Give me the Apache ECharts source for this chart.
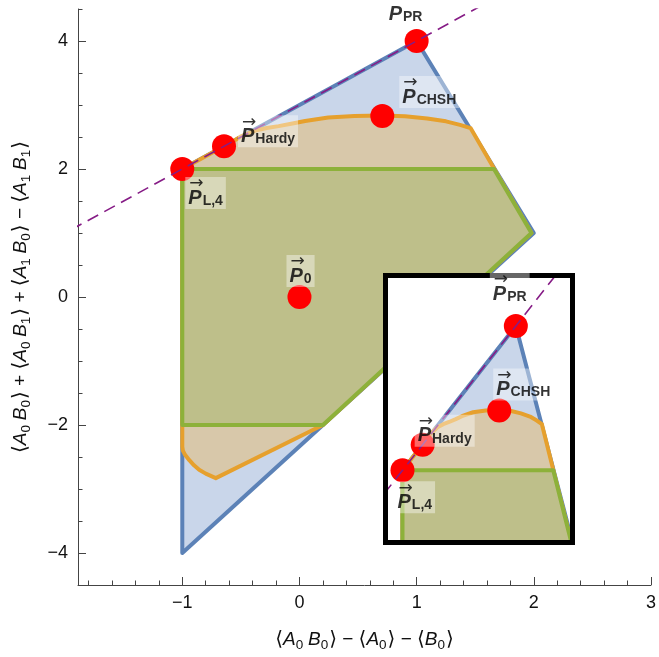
<!DOCTYPE html>
<html><head><meta charset="utf-8">
<script src="https://cdn.jsdelivr.net/npm/echarts@6/dist/echarts.min.js"></script>
<style>html,body{margin:0;padding:0;background:#fff}#c{width:659px;height:657px}</style>
</head><body><div id="c"></div>
<script>
// ---------- data ----------
const xMajorTicks = [-1, 0, 1, 2, 3];
const xMinorTicks = [-1.8,-1.6,-1.4,-1.2,-0.8,-0.6,-0.4,-0.2,0.2,0.4,0.6,0.8,1.2,1.4,1.6,1.8,2.2,2.4,2.6,2.8];
const yMajorTicks = [-4, -2, 0, 2, 4];
const yMinorTicks = [-4.5,-3.5,-3,-2.5,-1.5,-1,-0.5,0.5,1,1.5,2.5,3,3.5,4.5];

// no-signalling polytope (blue)
const nsX = [-1, 2, 1, -1];
const nsY = [-4, 1, 4, 2];
// quantum set (orange)
const qX = [-1, -0.82, -0.644, -0.57, -0.503, -0.44, -0.376, -0.28, -0.178, -0.06, 0.048, 0.246, 0.47, 0.707, 0.9, 1.09, 1.25, 1.37, 1.46, 1.98, 0.2, -0.714, -0.80, -0.856, -0.90, -0.94, -0.975, -0.995, -1];
const qY = [2, 2.18, 2.356, 2.43, 2.505, 2.555, 2.60, 2.64, 2.67, 2.71, 2.75, 2.805, 2.83, 2.835, 2.825, 2.79, 2.745, 2.69, 2.64, 1.0, -2, -2.83, -2.76, -2.70, -2.63, -2.55, -2.47, -2.40, -2.34];
// local polytope (green)
const lX = [-1, 0.2, 1.98, 1.66, -1];
const lY = [-2, -2, 1.0, 2, 2];
// dashed line
const dashX = [-1.95, 1.75];
const dashY = [1.05, 4.75];
// special points
const ptNames = ['PR', 'CHSH', 'Hardy', 'L4', '0'];
const ptX = [1, 0.707, -0.644, -1, 0];
const ptY = [4, 2.828, 2.356, 2, 0];
const ptSub = {PR: 'PR', CHSH: 'CHSH', Hardy: 'Hardy', L4: 'L,4', '0': '0'};

// ---------- layout ----------
const FONT = '"Liberation Sans", Arial, Helvetica, sans-serif';
const mainGrid = {left: 78, top: 9, width: 577, height: 576};
const insetGrid = {left: 385.5, top: 275.5, width: 187, height: 267};
const insetRange = {xmin: -1.3, xmax: 2.0, ymin: 1.0, ymax: 4.7};
const mainOffsets = {PR: [-31, -40], CHSH: [17, -40], Hardy: [14, -31], L4: [3, 8], '0': [-13, -42]};
const insetOffsets = {PR: [-26, -53], CHSH: [-6, -42], Hardy: [-8, -30], L4: [-8, 11]};
const mainArrow = {PR: false, CHSH: true, Hardy: true, L4: true, '0': true};

const C = {
  nsFill: '#c9d6ea', nsStroke: '#5c82b7',
  qFill: '#d8c8aa', qStroke: '#e6a02d',
  lFill: '#bebf8a', lStroke: '#8db13a',
  dash: '#861c86', red: '#ff0000'
};

function poly(xs, ys, fill, stroke, xi, z) {
  return {
    type: 'custom', xAxisIndex: xi, yAxisIndex: xi, z: z, silent: true, clip: true,
    data: xs.map((x, i) => [x, ys[i]]),
    renderItem: function (params, api) {
      if (params.dataIndex !== 0) return null;
      const pts = xs.map((x, i) => api.coord([x, ys[i]]));
      const cs = params.coordSys;
      return {
        type: 'group',
        clipPath: {type: 'rect', shape: {x: cs.x, y: cs.y, width: cs.width, height: cs.height}},
        children: [{type: 'polygon', shape: {points: pts},
          style: {fill: fill, stroke: stroke, lineWidth: 4, lineJoin: 'round'}}]
      };
    }
  };
}

const richLabel = {
  a: {fontSize: 17, lineHeight: 8, fontFamily: '"DejaVu Sans", sans-serif', color: '#000', padding: [0, 0, 0, 1]},
  p: {fontSize: 20, fontWeight: 'bold', fontStyle: 'italic', fontFamily: FONT, color: '#000', lineHeight: 20, verticalAlign: 'middle'},
  s: {fontSize: 14, fontWeight: 'bold', fontFamily: FONT, color: '#000', lineHeight: 20, verticalAlign: 'bottom', padding: [0, 0, 0, 1]}
};

function labelSeries(xi, names, offsets, arrows, z) {
  const data = [];
  names.forEach(n => {
    const i = ptNames.indexOf(n);
    data.push({
      value: [ptX[i], ptY[i]],
      label: {
        show: true, position: 'inside', align: 'left', verticalAlign: 'top',
        offset: offsets[n],
        formatter: (arrows[n] ? '{a|→}\n' : '') + '{p|P}{s|' + ptSub[n] + '}',
        rich: richLabel,
        backgroundColor: arrows[n] ? 'rgba(255,255,255,0.5)' : 'transparent',
        padding: [3, 3, 1, 3]
      }
    });
  });
  return {type: 'scatter', xAxisIndex: xi, yAxisIndex: xi, z: z, symbolSize: 1, silent: true,
    itemStyle: {color: 'transparent'}, clip: false, data: data};
}

function markerSeries(xi, names, z) {
  return {type: 'scatter', xAxisIndex: xi, yAxisIndex: xi, z: z, symbolSize: 24, silent: true,
    itemStyle: {color: C.red, opacity: 1},
    data: names.map(n => { const i = ptNames.indexOf(n); return [ptX[i], ptY[i]]; })};
}

function dashSeries(xi, z) {
  return {type: 'line', xAxisIndex: xi, yAxisIndex: xi, z: z, symbol: 'none', silent: true, clip: true,
    lineStyle: {color: C.dash, width: 1.6, type: [12, 7]},
    data: dashX.map((x, i) => [x, dashY[i]])};
}

const fmt = v => (v < 0 ? '\u2212' + Math.abs(v) : String(v));

const NF = 19;
const nameRich = {
  t: {fontSize: NF, fontFamily: FONT, color: '#111', lineHeight: 24, verticalAlign: 'middle'},
  b: {fontSize: NF + 1, fontFamily: '"DejaVu Sans", sans-serif', color: '#111', lineHeight: 24, verticalAlign: 'middle'},
  i: {fontSize: NF, fontFamily: FONT, fontStyle: 'italic', color: '#111', lineHeight: 24, verticalAlign: 'middle'},
  s: {fontSize: 13.5, fontFamily: FONT, color: '#111', lineHeight: 24, verticalAlign: 'bottom', padding: [0, 1, 0, 0]}
};
function ab(a, b) { return '{b|\u27e8}{i|A}{s|' + a + '}{i|\u2009B}{s|' + b + '}{b|\u27e9}'; }
function single(l, a) { return '{b|\u27e8}{i|' + l + '}{s|' + a + '}{b|\u27e9}'; }
const xName = ab(0, 0) + '{t| \u2212 }' + single('A', 0) + '{t| \u2212 }' + single('B', 0);
const yName = ab(0, 0) + '{t| + }' + ab(0, 1) + '{t| + }' + ab(1, 0) + '{t| \u2212 }' + ab(1, 1);

const axisCol = '#444';
const labelStyle = {fontSize: 18, fontFamily: FONT, color: '#111'};

const chart = echarts.init(document.getElementById('c'), null, {renderer: 'canvas'});
chart.setOption({
  animation: false,
  backgroundColor: '#fff',
  grid: [
    Object.assign({}, mainGrid, {containLabel: false}),
    Object.assign({}, insetGrid, {containLabel: false, show: false})
  ],
  xAxis: [
    {type: 'value', gridIndex: 0, min: -1.89, max: 3, position: 'bottom',
      axisLine: {show: true, onZero: false, lineStyle: {color: axisCol, width: 1}},
      axisTick: {show: true, inside: true, length: 8, customValues: xMajorTicks, lineStyle: {color: axisCol}},
      axisLabel: {show: true, customValues: xMajorTicks, formatter: fmt, margin: 9, ...labelStyle},
      splitLine: {show: false},
      name: xName, nameLocation: 'middle', nameGap: 43, nameTextStyle: {rich: nameRich}},
    {type: 'value', gridIndex: 0, min: -1.89, max: 3, position: 'bottom',
      axisLine: {show: false, onZero: false},
      axisTick: {show: true, inside: true, length: 4.5, customValues: xMinorTicks, lineStyle: {color: axisCol}},
      axisLabel: {show: false}, splitLine: {show: false}},
    {type: 'value', gridIndex: 1, min: insetRange.xmin, max: insetRange.xmax, show: false,
      axisLine: {onZero: false}, splitLine: {show: false}}
  ],
  yAxis: [
    {type: 'value', gridIndex: 0, min: -4.5, max: 4.5, position: 'left',
      axisLine: {show: true, onZero: false, lineStyle: {color: axisCol, width: 1}},
      axisTick: {show: true, inside: true, length: 8, customValues: yMajorTicks, lineStyle: {color: axisCol}},
      axisLabel: {show: true, customValues: yMajorTicks, formatter: fmt, margin: 10, ...labelStyle},
      splitLine: {show: false},
      name: yName, nameLocation: 'middle', nameGap: 45, nameTextStyle: {rich: nameRich}},
    {type: 'value', gridIndex: 0, min: -4.5, max: 4.5, position: 'left',
      axisLine: {show: false, onZero: false},
      axisTick: {show: true, inside: true, length: 4.5, customValues: yMinorTicks, lineStyle: {color: axisCol}},
      axisLabel: {show: false}, splitLine: {show: false}},
    {type: 'value', gridIndex: 1, min: insetRange.ymin, max: insetRange.ymax, show: false,
      axisLine: {onZero: false}, splitLine: {show: false}}
  ],
  graphic: [{
    type: 'rect', z: 30, silent: true,
    shape: {x: insetGrid.left, y: insetGrid.top, width: insetGrid.width, height: insetGrid.height},
    style: {fill: null, stroke: '#000', lineWidth: 5}
  }],
  series: [
    poly(nsX, nsY, C.nsFill, C.nsStroke, 0, 2),
    poly(qX, qY, C.qFill, C.qStroke, 0, 3),
    poly(lX, lY, C.lFill, C.lStroke, 0, 4),
    markerSeries(0, ptNames, 5),
    dashSeries(0, 6),
    labelSeries(0, ptNames, mainOffsets, mainArrow, 7),
    // inset
    {type: 'custom', xAxisIndex: 2, yAxisIndex: 2, z: 20, silent: true, data: [[0, 0]],
      renderItem: function (params) {
        const cs = params.coordSys;
        return {type: 'rect', shape: {x: cs.x, y: cs.y, width: cs.width, height: cs.height}, style: {fill: '#fff'}};
      }},
    poly(nsX, nsY, C.nsFill, C.nsStroke, 2, 21),
    poly(qX, qY, C.qFill, C.qStroke, 2, 22),
    poly(lX, lY, C.lFill, C.lStroke, 2, 23),
    markerSeries(2, ['PR', 'CHSH', 'Hardy', 'L4'], 24),
    dashSeries(2, 25),
    labelSeries(2, ['PR', 'CHSH', 'Hardy', 'L4'], insetOffsets, {PR: true, CHSH: true, Hardy: true, L4: true}, 31)
  ]
});
</script></body></html>
